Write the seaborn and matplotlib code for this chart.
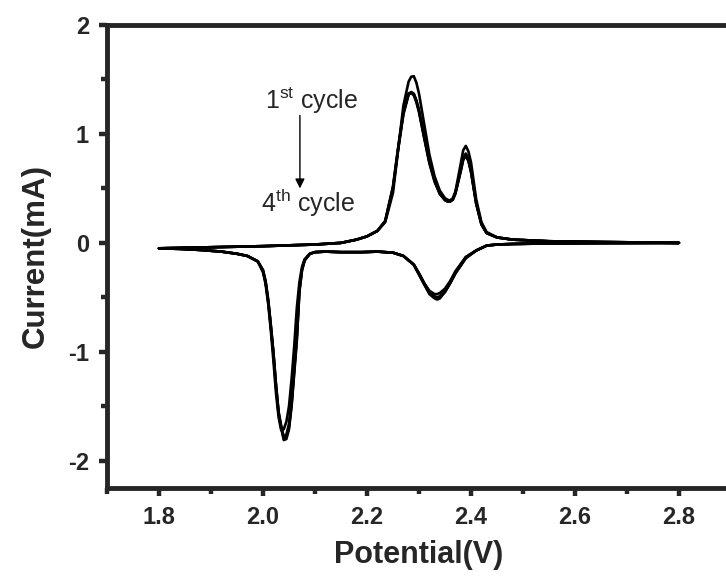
import numpy as np
import pandas as pd
import matplotlib
matplotlib.use('Agg')
import matplotlib.pyplot as plt
import seaborn as sns

# potential grid of the anodic (forward) scan, V
E_up = [1.80, 1.90, 2.00, 2.10, 2.15, 2.18, 2.20, 2.22, 2.235, 2.25, 2.26, 2.27,
        2.28, 2.285, 2.29, 2.295, 2.30,
        2.31, 2.32, 2.33, 2.34, 2.35,
        2.355, 2.36, 2.365, 2.37,
        2.38, 2.385, 2.39, 2.395, 2.40,
        2.41, 2.42, 2.43, 2.45, 2.48, 2.55, 2.65, 2.80]

# potential grid of the cathodic (reverse) scan, V
E_down = [2.80, 2.65, 2.55, 2.48, 2.45, 2.43, 2.41, 2.39, 2.37, 2.36, 2.35, 2.34,
          2.335, 2.33, 2.32, 2.31, 2.30, 2.29, 2.27, 2.25, 2.22, 2.19, 2.15, 2.12,
          2.10, 2.09, 2.08, 2.075, 2.07, 2.065, 2.06, 2.055, 2.05, 2.045, 2.04,
          2.035, 2.03, 2.025, 2.02, 2.015, 2.01, 2.005, 2.00, 1.99, 1.97, 1.95,
          1.92, 1.88, 1.84, 1.80]

# anodic currents (mA) per cycle
up_c1 = [-0.05, -0.04, -0.03, -0.015, 0.0, 0.03, 0.06, 0.11, 0.19, 0.46, 0.86, 1.26,
         1.48, 1.525, 1.53, 1.47, 1.37,
         1.09, 0.81, 0.61, 0.48, 0.41,
         0.395, 0.39, 0.41, 0.47,
         0.72, 0.85, 0.89, 0.84, 0.74,
         0.40, 0.19, 0.10, 0.05, 0.03, 0.015, 0.008, 0.0]
up_c2 = [-0.05, -0.04, -0.03, -0.015, 0.0, 0.03, 0.06, 0.11, 0.20, 0.50, 0.86, 1.18,
         1.36, 1.38, 1.365, 1.30, 1.21,
         0.97, 0.74, 0.57, 0.45, 0.39,
         0.38, 0.38, 0.40, 0.46,
         0.67, 0.78, 0.82, 0.77, 0.66,
         0.37, 0.18, 0.09, 0.05, 0.03, 0.015, 0.008, 0.0]
up_c3 = [-0.05, -0.04, -0.03, -0.015, 0.0, 0.03, 0.06, 0.11, 0.20, 0.51, 0.87, 1.19,
         1.37, 1.385, 1.37, 1.31, 1.22,
         0.98, 0.75, 0.58, 0.46, 0.40,
         0.385, 0.385, 0.40, 0.46,
         0.66, 0.77, 0.81, 0.76, 0.66,
         0.36, 0.17, 0.09, 0.05, 0.03, 0.015, 0.008, 0.0]
up_c4 = [-0.05, -0.04, -0.03, -0.015, 0.0, 0.03, 0.06, 0.11, 0.20, 0.52, 0.88, 1.20,
         1.37, 1.375, 1.355, 1.29, 1.20,
         0.96, 0.73, 0.56, 0.45, 0.395,
         0.38, 0.38, 0.395, 0.45,
         0.65, 0.76, 0.80, 0.75, 0.65,
         0.36, 0.17, 0.09, 0.05, 0.03, 0.015, 0.008, 0.0]

# cathodic currents (mA) per cycle
down_c1 = [0.0, -0.002, -0.005, -0.01, -0.015, -0.025, -0.07, -0.13, -0.26, -0.35,
           -0.42, -0.46, -0.47, -0.47, -0.44, -0.37, -0.28, -0.20, -0.12, -0.09,
           -0.08, -0.085, -0.085, -0.08, -0.085, -0.10, -0.15, -0.22, -0.36, -0.60,
           -0.95, -1.25, -1.50, -1.64, -1.71, -1.72, -1.60, -1.38, -1.08, -0.80,
           -0.56, -0.38, -0.27, -0.17, -0.12, -0.10, -0.08, -0.065, -0.055, -0.05]
down_c2 = [0.0, -0.002, -0.005, -0.01, -0.015, -0.025, -0.07, -0.13, -0.27, -0.36,
           -0.44, -0.49, -0.50, -0.49, -0.45, -0.37, -0.28, -0.20, -0.12, -0.09,
           -0.08, -0.085, -0.085, -0.08, -0.085, -0.10, -0.16, -0.24, -0.42, -0.85,
           -1.15, -1.45, -1.66, -1.76, -1.78, -1.68, -1.55, -1.30, -1.00, -0.75,
           -0.52, -0.35, -0.25, -0.17, -0.12, -0.10, -0.08, -0.065, -0.055, -0.05]
down_c3 = [0.0, -0.002, -0.005, -0.01, -0.015, -0.025, -0.07, -0.14, -0.28, -0.37,
           -0.45, -0.50, -0.51, -0.50, -0.46, -0.38, -0.29, -0.20, -0.12, -0.09,
           -0.08, -0.085, -0.085, -0.08, -0.085, -0.10, -0.16, -0.25, -0.44, -0.88,
           -1.18, -1.48, -1.69, -1.78, -1.80, -1.69, -1.56, -1.31, -1.01, -0.76,
           -0.53, -0.36, -0.25, -0.17, -0.12, -0.10, -0.08, -0.065, -0.055, -0.05]
down_c4 = [0.0, -0.002, -0.005, -0.01, -0.015, -0.025, -0.07, -0.14, -0.28, -0.37,
           -0.45, -0.51, -0.52, -0.51, -0.47, -0.38, -0.29, -0.20, -0.12, -0.09,
           -0.08, -0.085, -0.085, -0.08, -0.085, -0.10, -0.16, -0.25, -0.45, -0.90,
           -1.20, -1.50, -1.71, -1.80, -1.81, -1.70, -1.57, -1.32, -1.02, -0.77,
           -0.54, -0.36, -0.26, -0.17, -0.12, -0.10, -0.08, -0.065, -0.055, -0.05]

cycles = ['1', '2', '3', '4']
up_all = [up_c1, up_c2, up_c3, up_c4]
down_all = [down_c1, down_c2, down_c3, down_c4]

# one long table, each cycle is a closed loop: forward then reverse
frames = []
for name, up, down in zip(cycles, up_all, down_all):
    frames.append(pd.DataFrame({'potential': E_up + E_down,
                                'current': up + down,
                                'cycle': name}))
df = pd.concat(frames, ignore_index=True)

sns.set_style('ticks')
plt.rcParams['font.family'] = ['Liberation Sans', 'DejaVu Sans']
plt.rcParams['mathtext.fontset'] = 'custom'
plt.rcParams['mathtext.rm'] = 'Liberation Sans'
plt.rcParams['mathtext.it'] = 'Liberation Sans'

fig = plt.figure(figsize=(7.26, 5.83), dpi=100)
ax = fig.add_axes([107 / 726, 95 / 583, 624 / 726, 463 / 583])

sns.lineplot(data=df, x='potential', y='current', hue='cycle',
             palette=['black'] * 4, sort=False, estimator=None,
             legend=False, linewidth=1.9, ax=ax,
             solid_joinstyle='round', solid_capstyle='round')

ax.set_xlim(1.7, 2.9)
ax.set_ylim(-2.25, 2.0)
ax.set_xticks([1.8, 2.0, 2.2, 2.4, 2.6, 2.8])
ax.set_xticks([1.7, 1.9, 2.1, 2.3, 2.5, 2.7, 2.9], minor=True)
ax.set_yticks([-2, -1, 0, 1, 2])
ax.set_yticks([-1.5, -0.5, 0.5, 1.5], minor=True)
ax.set_xticklabels(['1.8', '2.0', '2.2', '2.4', '2.6', '2.8'])
ax.set_yticklabels(['-2', '-1', '0', '1', '2'])

for side in ['left', 'bottom', 'top', 'right']:
    ax.spines[side].set_linewidth(3.5)
ax.tick_params(which='major', direction='out', length=6, width=3.2, pad=7,
               labelsize=17)
ax.tick_params(which='minor', direction='out', length=4, width=3.2)
for lab in ax.get_xticklabels() + ax.get_yticklabels():
    lab.set_fontweight('bold')

ax.set_xlabel('Potential(V)', fontsize=22, fontweight='bold', labelpad=8)
ax.set_ylabel('Current(mA)', fontsize=22.5, fontweight='bold', labelpad=12)

ax.text(2.094, 1.23, '1$^{\\rm st}$ cycle', fontsize=18, ha='center', va='baseline')
ax.text(2.087, 0.28, '4$^{\\rm th}$ cycle', fontsize=18, ha='center', va='baseline')
ax.annotate('', xy=(2.071, 0.50), xytext=(2.071, 1.17),
            arrowprops=dict(arrowstyle='-|>', color='black', lw=1,
                            mutation_scale=14, shrinkA=0, shrinkB=0))

fig.savefig('out.png', dpi=100)
